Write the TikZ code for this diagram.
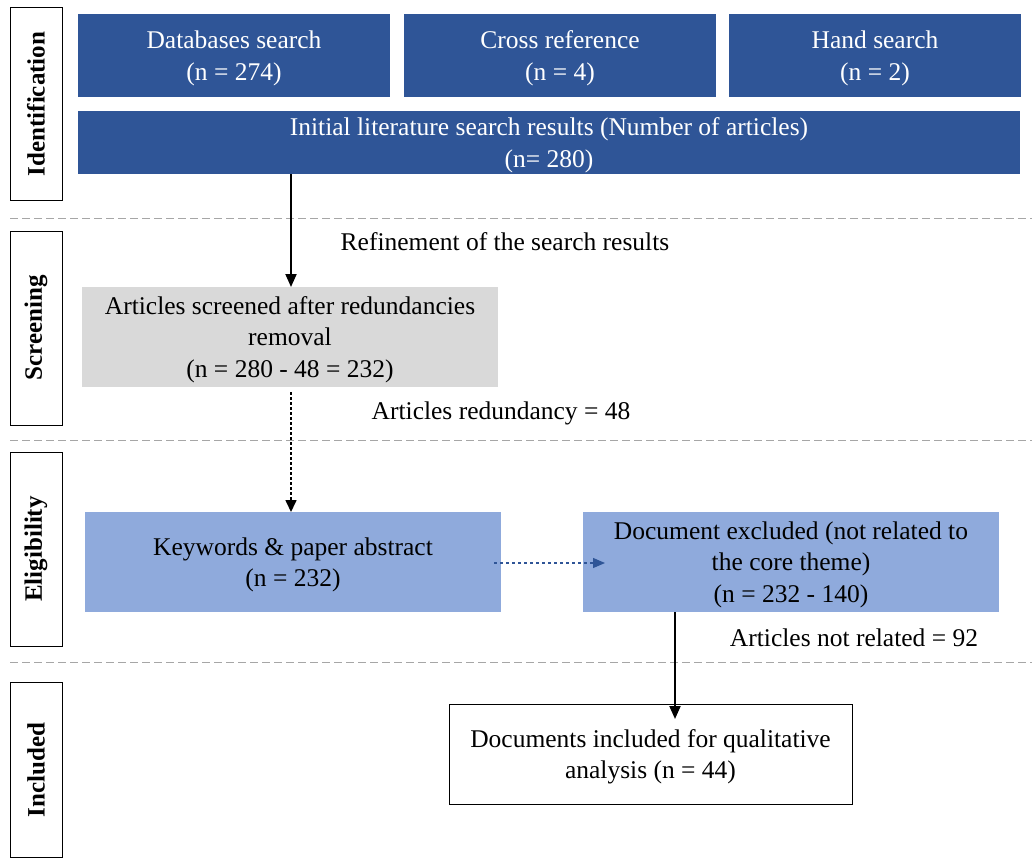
\documentclass[tikz,border=0pt]{standalone}
\usepackage{fontspec}
\setmainfont{Liberation Serif}
\usetikzlibrary{arrows.meta}
\definecolor{dblue}{HTML}{2F5597}
\definecolor{lblue}{HTML}{8FAADC}
\definecolor{lgray}{HTML}{D9D9D9}
\definecolor{dashgray}{HTML}{A6A6A6}
\tikzset{
  txt/.style={font=\fontsize{25.5}{31.5}\selectfont, align=center, inner sep=0pt, text depth=0pt},
  darkbox/.style={txt, fill=dblue, text=white, draw=none},
  lightbox/.style={txt, fill=lblue, draw=none},
  graybox/.style={txt, fill=lgray, draw=none},
  whitebox/.style={txt, draw=black, line width=1pt},
  sidebox/.style={draw=black, line width=1pt, minimum width=52pt, inner sep=0pt},
  sidetext/.style={font=\fontsize{25}{28}\selectfont\bfseries, rotate=90},
  sep/.style={draw=dashgray, line width=1pt, dash pattern=on 8pt off 4pt},
  solidarrow/.style={draw=black, line width=2pt, -{Triangle[width=11pt,length=13pt]}},
  dotarrow/.style={draw=black, line width=1.6pt, dash pattern=on 3pt off 2pt, -{Triangle[width=11pt,length=12pt]}},
  bluearrow/.style={draw=dblue, line width=1.2pt, dash pattern=on 3pt off 3pt, -{Triangle[width=10pt,length=12pt]}},
}
\begin{document}
\begin{tikzpicture}[x=1pt,y=-1pt]
\useasboundingbox (0,0) rectangle (1032,859);

% side boxes
\node[sidebox, minimum height=193pt] (sid) at (36,104) {};
\node[sidetext] at (sid.center) {Identification};
\node[sidebox, minimum height=194pt] (sscr) at (36,328) {};
\node[sidetext] at (sscr.center) {Screening};
\node[sidebox, minimum height=194pt] (selig) at (36,549) {};
\node[sidetext] at (selig.center) {Eligibility};
\node[sidebox, minimum height=175pt] (sincl) at (36,770) {};
\node[sidetext] at (sincl.center) {Included};

% separators
\coordinate (d1a) at (10,218); \coordinate (d1b) at (1032,218);
\coordinate (d2a) at (10,440); \coordinate (d2b) at (1032,440);
\coordinate (d3a) at (10,662); \coordinate (d3b) at (1032,662);
\draw[sep] (d1a) -- (d1b);
\draw[sep] (d2a) -- (d2b);
\draw[sep] (d3a) -- (d3b);

% identification
\node[darkbox, minimum width=312pt, minimum height=83pt] (db) at (234,55.5) {Databases search\\(n = 274)};
\node[darkbox, minimum width=312pt, minimum height=83pt] (cr) at (560,55.5) {Cross reference\\(n = 4)};
\node[darkbox, minimum width=292pt, minimum height=83pt] (hs) at (875,55.5) {Hand search\\(n = 2)};
\node[darkbox, minimum width=942pt, minimum height=63pt] (init) at (549,142.5) {Initial literature search results (Number of articles)\\(n= 280)};

% screening
\node[graybox, minimum width=416pt, minimum height=100pt] (scr) at (290,337) {Articles screened after redundancies\\removal\\(n = 280 - 48 = 232)};
\node[txt] (refl) at (505,242) {Refinement of the search results};
\node[txt] (redl) at (501,411) {Articles redundancy = 48};

% eligibility
\node[lightbox, minimum width=416pt, minimum height=100pt] (kw) at (293,562) {Keywords \& paper abstract\\(n = 232)};
\node[lightbox, minimum width=416pt, minimum height=100pt] (exc) at (791,562) {Document excluded (not related to\\the core theme)\\(n = 232 - 140)};
\node[txt] (nrl) at (854,638) {Articles not related = 92};

% included
\node[whitebox, minimum width=403pt, minimum height=100pt] (inc) at (650.5,754) {Documents included for qualitative\\analysis (n = 44)};

% arrows
\coordinate (a1s) at (291,174);
\coordinate (a1e) at (291,287);
\draw[solidarrow] (a1s) -- (a1e);
\coordinate (a2s) at (291,392);
\coordinate (a2e) at (291,512);
\draw[dotarrow] (a2s) -- (a2e);
\coordinate (a3s) at (494,563);
\coordinate (a3e) at (605,563);
\draw[bluearrow] (a3s) -- (a3e);
\coordinate (a4s) at (675,612);
\coordinate (a4e) at (675,719);
\draw[solidarrow] (a4s) -- (a4e);
\end{tikzpicture}
\end{document}
